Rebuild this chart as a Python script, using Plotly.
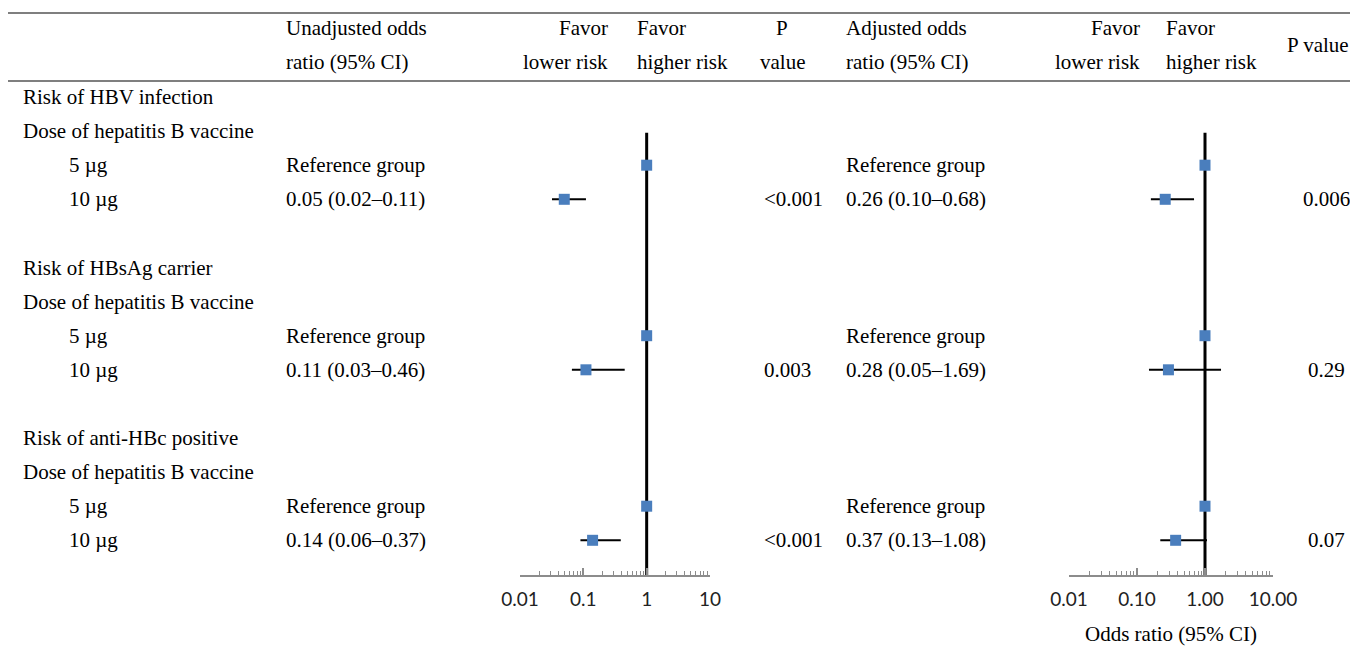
import plotly.graph_objects as go

# ---------------- data ----------------
outcomes = ["Risk of HBV infection", "Risk of HBsAg carrier", "Risk of anti-HBc positive"]
subheader = "Dose of hepatitis B vaccine"
doses = ["5 µg", "10 µg"]
ref_label = "Reference group"

unadj_text = ["0.05 (0.02–0.11)", "0.11 (0.03–0.46)", "0.14 (0.06–0.37)"]
unadj_or = [0.05, 0.11, 0.14]
unadj_lo = [0.032, 0.066, 0.09]
unadj_hi = [0.11, 0.45, 0.39]
unadj_p = ["<0.001", "0.003", "<0.001"]

adj_text = ["0.26 (0.10–0.68)", "0.28 (0.05–1.69)", "0.37 (0.13–1.08)"]
adj_or = [0.26, 0.29, 0.37]
adj_lo = [0.16, 0.15, 0.22]
adj_hi = [0.69, 1.72, 1.07]
adj_p = ["0.006", "0.29", "0.07"]

ref_or = [1, 1, 1]

tick_vals = [0.01, 0.1, 1, 10]
tick_text_left = ["0.01", "0.1", "1", "10"]
tick_text_right = ["0.01", "0.10", "1.00", "10.00"]

# ---------------- layout helpers ----------------
PAGE_MARGIN = 8                      # default body margin of the page
W, H = 1358 - 2 * PAGE_MARGIN, 666 - 2 * PAGE_MARGIN
ROW0_PX, ROW_STEP = 97, 34.1          # screen pixel of first row, pixel per row
AXIS_PX = 576                          # screen pixel of the forest x-axis line
BLOCK = 5                              # rows per outcome block


def px_x(p):
    return (p - PAGE_MARGIN) / W


def px_y(p):
    return 1 - (p - PAGE_MARGIN) / H


def row_of(px):
    return (px - ROW0_PX) / ROW_STEP


outcome_rows = [b * BLOCK for b in range(len(outcomes))]
sub_rows = [r + 1 for r in outcome_rows]
ref_rows = [r + 2 for r in outcome_rows]
test_rows = [r + 3 for r in outcome_rows]

SERIF = "Liberation Serif"
FS = 21
BLUE = "#4a7ebd"

fig = go.Figure()

# vertical reference lines at OR = 1
axis_row = row_of(AXIS_PX)
for xa in ["x", "x2"]:
    fig.add_trace(go.Scatter(x=[1, 1], y=[sub_rows[0] + 0.05, axis_row], mode="lines",
                             line=dict(color="black", width=3), xaxis=xa, yaxis="y",
                             hoverinfo="skip", showlegend=False))

# unadjusted
fig.add_trace(go.Scatter(
    x=unadj_or, y=test_rows, mode="markers", xaxis="x", yaxis="y",
    marker=dict(symbol="square", size=11, color=BLUE),
    error_x=dict(type="data", symmetric=False,
                 array=[h - o for h, o in zip(unadj_hi, unadj_or)],
                 arrayminus=[o - l for o, l in zip(unadj_or, unadj_lo)],
                 color="black", thickness=2, width=0),
    showlegend=False))
fig.add_trace(go.Scatter(x=ref_or, y=ref_rows, mode="markers", xaxis="x", yaxis="y",
                         marker=dict(symbol="square", size=11, color=BLUE), showlegend=False))

# adjusted
fig.add_trace(go.Scatter(
    x=adj_or, y=test_rows, mode="markers", xaxis="x2", yaxis="y",
    marker=dict(symbol="square", size=11, color=BLUE),
    error_x=dict(type="data", symmetric=False,
                 array=[h - o for h, o in zip(adj_hi, adj_or)],
                 arrayminus=[o - l for o, l in zip(adj_or, adj_lo)],
                 color="black", thickness=2, width=0),
    showlegend=False))
fig.add_trace(go.Scatter(x=ref_or, y=ref_rows, mode="markers", xaxis="x2", yaxis="y",
                         marker=dict(symbol="square", size=11, color=BLUE), showlegend=False))

ann = []


def txt(x, y, s, anchor="left", yref="y", size=FS, font=SERIF):
    ann.append(dict(x=x, y=y, xref="paper", yref=yref, text=s, showarrow=False,
                    xanchor=anchor, yanchor="middle", borderpad=0,
                    font=dict(family=font, size=size, color="black")))


# header
H1, H2 = 28, 62
txt(px_x(285), px_y(H1), "Unadjusted odds", yref="paper")
txt(px_x(285), px_y(H2), "ratio (95% CI)", yref="paper")
txt(px_x(609), px_y(H1), "Favor", "right", yref="paper")
txt(px_x(609), px_y(H2), "lower risk", "right", yref="paper")
txt(px_x(636), px_y(H1), "Favor", yref="paper")
txt(px_x(636), px_y(H2), "higher risk", yref="paper")
txt(px_x(782), px_y(H1), "P", "center", yref="paper")
txt(px_x(782), px_y(H2), "value", "center", yref="paper")
txt(px_x(845), px_y(H1), "Adjusted odds", yref="paper")
txt(px_x(845), px_y(H2), "ratio (95% CI)", yref="paper")
txt(px_x(1141), px_y(H1), "Favor", "right", yref="paper")
txt(px_x(1141), px_y(H2), "lower risk", "right", yref="paper")
txt(px_x(1165), px_y(H1), "Favor", yref="paper")
txt(px_x(1165), px_y(H2), "higher risk", yref="paper")
txt(1.0, px_y(45), "P value", "right", yref="paper")

# body
for i in range(len(outcomes)):
    txt(px_x(22), outcome_rows[i], outcomes[i])
    txt(px_x(22), sub_rows[i], subheader)
    txt(px_x(68), ref_rows[i], doses[0])
    txt(px_x(68), test_rows[i], doses[1])
    txt(px_x(285), ref_rows[i], ref_label)
    txt(px_x(285), test_rows[i], unadj_text[i])
    txt(px_x(763), test_rows[i], unadj_p[i])
    txt(px_x(845), ref_rows[i], ref_label)
    txt(px_x(845), test_rows[i], adj_text[i])
    txt(px_x(1326), test_rows[i], adj_p[i], "center")

txt(px_x(1171), px_y(634), "Odds ratio (95% CI)", "center", yref="paper")

# horizontal rules
shapes = [
    dict(type="line", xref="paper", yref="paper", x0=0, x1=1, y0=px_y(13), y1=px_y(13),
         line=dict(color="#7f7f7f", width=2)),
    dict(type="line", xref="paper", yref="paper", x0=0, x1=1, y0=px_y(81), y1=px_y(81),
         line=dict(color="#7f7f7f", width=2)),
]

axis_common = dict(
    type="log", range=[-2, 1], anchor="free", position=px_y(AXIS_PX),
    showgrid=False, zeroline=False, showline=True, linecolor="#8c8c8c", linewidth=1.5,
    ticks="inside", ticklen=7, tickwidth=1.5, tickcolor="#8c8c8c",
    tickvals=tick_vals, ticklabelstandoff=6, automargin=False,
    tickfont=dict(family="Lato", size=19, color="#222222"),
    minor=dict(ticks="inside", ticklen=4, tickwidth=1, tickcolor="#8c8c8c", dtick="D1"),
    fixedrange=True,
)

fig.update_layout(
    width=W, height=H, margin=dict(l=0, r=0, t=0, b=0, pad=0, autoexpand=False),
    paper_bgcolor="white", plot_bgcolor="rgba(0,0,0,0)",
    xaxis=dict(domain=[px_x(520), px_x(710)], ticktext=tick_text_left, **axis_common),
    xaxis2=dict(domain=[px_x(1069), px_x(1273)], ticktext=tick_text_right, **axis_common),
    yaxis=dict(domain=[0, 1], range=[row_of(H + PAGE_MARGIN), row_of(PAGE_MARGIN)],
               visible=False, fixedrange=True, automargin=False),
    annotations=ann, shapes=shapes, showlegend=False,
)

fig.write_html("out.html")
